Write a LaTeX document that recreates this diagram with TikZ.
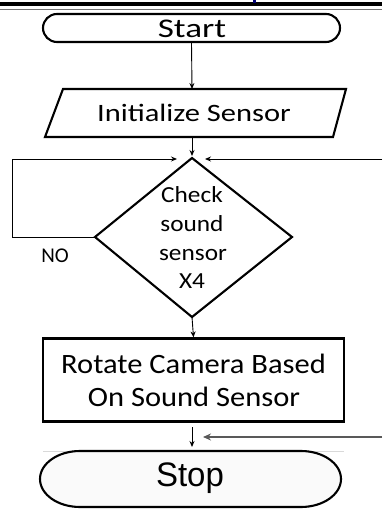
\documentclass[tikz,border=0pt]{standalone}
\usepackage{fontspec}
\setmainfont{Carlito}
\newfontfamily\arialf{Liberation Sans}
\usetikzlibrary{arrows.meta,shapes.misc}
\newcommand\sxs[2]{\scalebox{#1}[1]{#2}}
\begin{document}
\begin{tikzpicture}[x=1pt,y=-1pt,
  shapeline/.style={line width=2.1pt, draw=black},
  flow/.style={line width=0.9pt, -{Stealth[length=6pt,width=5pt]}},
  grayflow/.style={line width=2.2pt, draw=black!65, -{Stealth[length=8pt,width=7pt]}},
  txt/.style={inner sep=0pt, anchor=base},
  box/.style={shapeline, inner sep=0pt, fill=white},
]
\useasboundingbox (0,0) rectangle (382,510);
% top page remnants
\fill[black] (0,2.5) rectangle (382,6.5);
\draw[black!55, line width=0.8pt] (0,9.5) -- (382,9.5);
\fill[blue!45!black] (253,0) rectangle (256,3);

% Start
\node[box, rounded rectangle, minimum width=297pt, minimum height=28pt] (start) at (191.5,28) {};
\node[txt, font=\fontsize{27}{27}\selectfont] (starttxt) at (192,38) {\sxs{1.3}{Start}};

% Initialize sensor (parallelogram)
\coordinate (pTL) at (63,89);
\coordinate (pTR) at (346,89);
\coordinate (pBR) at (333,137);
\coordinate (pBL) at (45,137);
\coordinate (pTop) at (192,89);
\coordinate (pBot) at (192,137);
\draw[shapeline] (pTL) -- (pTR) -- (pBR) -- (pBL) -- cycle;
\node[txt, font=\fontsize{25}{25}\selectfont] (init) at (194,121.5) {\sxs{1.22}{Initialize Sensor}};

% Decision diamond
\coordinate (dT) at (192,158);
\coordinate (dL) at (95,237);
\coordinate (dR) at (292,237);
\coordinate (dB) at (192,317);
\draw[shapeline] (dT) -- (dR) -- (dB) -- (dL) -- cycle;
\node[txt, font=\fontsize{23}{23}\selectfont] (c1) at (192,203) {\sxs{1.1}{Check}};
\node[txt, font=\fontsize{23}{23}\selectfont] (c2) at (192,231.5) {\sxs{1.1}{sound}};
\node[txt, font=\fontsize{23}{23}\selectfont] (c3) at (193,260) {\sxs{1.1}{sensor}};
\node[txt, font=\fontsize{23}{23}\selectfont] (c4) at (192,288) {\sxs{1.1}{X4}};

% loop left
\coordinate (loopA) at (12,237);
\coordinate (loopB) at (12,159);
\coordinate (loopTip) at (177,159);
\draw[flow] (dL) -- (loopA) -- (loopB) -- (loopTip);
\node[txt, font=\fontsize{21}{21}\selectfont] (no) at (55,262) {NO};

% right incoming
\coordinate (rin) at (382,159);
\coordinate (rinTip) at (205,159);
\draw[flow] (rin) -- (rinTip);

% Rotate camera box
\node[box, rectangle, minimum width=301pt, minimum height=83pt] (rot) at (193.5,380) {};
\node[txt, font=\fontsize{28}{28}\selectfont] (r1) at (193.5,373) {\sxs{1.09}{Rotate Camera Based}};
\node[txt, font=\fontsize{28}{28}\selectfont] (r2) at (194,406) {\sxs{1.09}{On Sound Sensor}};

% connectors
\draw[flow] (start.south) -- (pTop);
\draw[flow] (pBot) -- (192,156);
\draw[flow] (dB) -- (rot.north);
\coordinate (aS) at (192,427);
\coordinate (aE) at (192,447);
\draw[flow] (aS) -- (aE);
\coordinate (gS) at (382,437);
\coordinate (gE) at (203,437);
\draw[grayflow] (gS) -- (gE);

% Stop
\draw[black!15, line width=0.6pt] (43,451) -- (344,451);
\coordinate (stopTop) at (190.5,451);
\draw[shapeline, fill=black!2] (80,451) -- (301,451) arc[start angle=-90, end angle=90, x radius=40, y radius=28] -- (80,507) arc[start angle=90, end angle=270, x radius=40, y radius=28] -- cycle;
\node[txt, font=\arialf\fontsize{34}{34}\selectfont] (stop) at (190,486) {\sxs{0.97}{Stop}};
\end{tikzpicture}
\end{document}
